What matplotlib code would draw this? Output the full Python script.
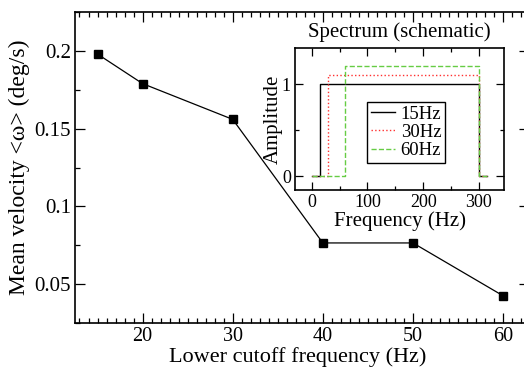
import numpy as np
import matplotlib.pyplot as plt
from matplotlib.ticker import MultipleLocator

plt.rcParams['font.family'] = ['Liberation Serif', 'DejaVu Serif']

# main data
cutoff = [15, 20, 30, 40, 50, 60]
velocity = [0.198, 0.179, 0.156, 0.0765, 0.0765, 0.0425]

# inset spectrum (schematic band-pass)
spec_labels = ['15Hz', '30Hz', '60Hz']
spec_low = [15, 30, 60]
spec_amp = [1.0, 1.1, 1.2]
spec_high = 300
spec_end = 315
spec_colors = ['black', '#ff3030', '#66cc44']
spec_styles = ['-', ':', '--']

fig = plt.figure(figsize=(5.24, 3.67), dpi=100)
# right edge of the main frame runs just past the picture, as in the original
ax = fig.add_axes([0.1431, 0.1199, 0.8669, 0.8471])
ax.plot(cutoff, velocity, color='black', lw=0.9, marker='s', ms=6.2)
ax.set_xlim(12.5, 62.9)
ax.set_ylim(0.025, 0.225)
ax.xaxis.set_major_locator(MultipleLocator(10))
ax.xaxis.set_minor_locator(MultipleLocator(1))
ax.yaxis.set_minor_locator(MultipleLocator(0.025))
ax.set_yticks([0.05, 0.1, 0.15, 0.2])
ax.set_yticklabels(['0.05', '0.1', '0.15', '0.2'])
ax.tick_params(which='both', direction='in', top=True, right=True, width=0.9)
ax.tick_params(which='major', length=7, labelsize=15)
ax.tick_params(which='minor', length=3.5)
ax.tick_params(axis='x', pad=3, labelsize=14.5)
ax.tick_params(axis='y', pad=3)
for s in ax.spines.values():
    s.set_linewidth(1.2)
ax.set_xlabel('Lower cutoff frequency (Hz)', fontsize=16)
ax.xaxis.set_label_coords(0.49, -0.079)
ax.set_ylabel('Mean velocity <ω> (deg/s)', fontsize=17, labelpad=3)

# inset
ins = fig.add_axes([0.563, 0.482, 0.399, 0.388])
for lo, amp, lab, col, ls in zip(spec_low, spec_amp, spec_labels, spec_colors, spec_styles):
    ins.step([0, lo, spec_high, spec_end], [0, amp, 0, 0], where='post',
             color=col, ls=ls, lw=1.0, label=lab)
ins.set_xlim(-30, 345)
ins.set_ylim(-0.15, 1.4)
ins.xaxis.set_major_locator(MultipleLocator(100))
ins.xaxis.set_minor_locator(MultipleLocator(50))
ins.set_yticks([0, 1])
ins.yaxis.set_minor_locator(MultipleLocator(0.5))
ins.tick_params(which='both', direction='in', top=True, right=True, width=0.9)
ins.tick_params(which='major', length=6, labelsize=13, pad=3)
ins.tick_params(which='minor', length=3)
for s in ins.spines.values():
    s.set_linewidth(1.2)
ins.set_xlabel('Frequency (Hz)', fontsize=15, labelpad=0)
ins.set_ylabel('Amplitude', fontsize=15, labelpad=-1)
ins.set_title('Spectrum (schematic)', fontsize=15, pad=8)
leg = ins.legend(loc='upper left', bbox_to_anchor=(0.344, 0.618), borderaxespad=0,
                 fontsize=13.5, handlelength=1.3, handletextpad=0.3,
                 labelspacing=0.05, borderpad=0.2, fancybox=False, framealpha=1)
leg.get_frame().set_edgecolor('black')
leg.get_frame().set_linewidth(1.0)

fig.savefig('out.png', dpi=100)
